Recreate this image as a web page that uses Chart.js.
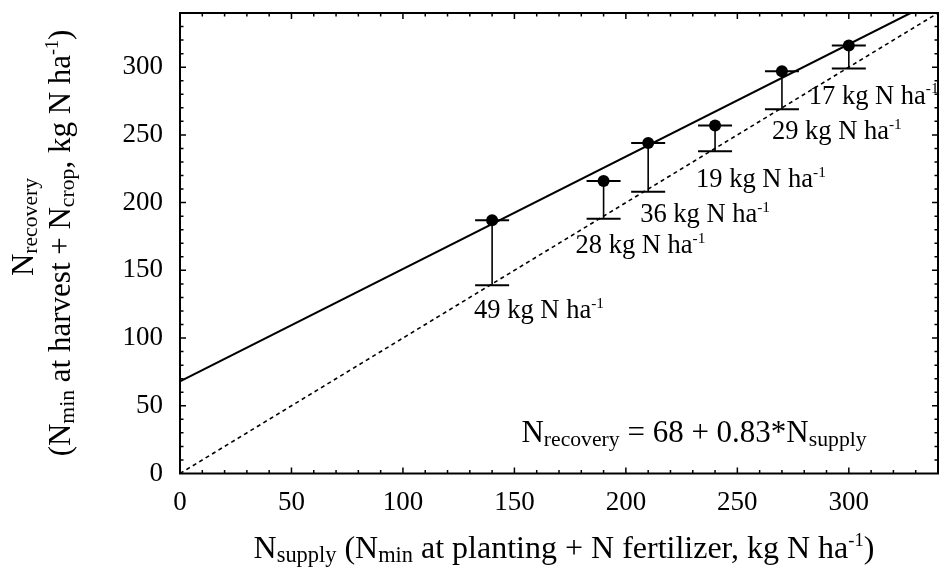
<!DOCTYPE html>
<html>
<head>
<meta charset="utf-8">
<script src="https://cdn.jsdelivr.net/npm/chart.js@4.4.0/dist/chart.umd.min.js"></script>
<style>
  html, body { margin: 0; padding: 0; background: #fff; }
  #wrap { width: 944px; height: 568px; }
</style>
</head>
<body>
<div id="wrap"><canvas id="nChart" width="944" height="568"></canvas></div>
<script>
// N supply vs N recovery
const supply = [140, 190, 210, 240, 270, 300];
const recovery = [187, 216, 244, 257, 297, 316];
const lowerEnd = [139, 188, 208, 238, 269, 299];
const gapLabels = ['49', '28', '36', '19', '29', '17'];

// regression line N_recovery = 68 + 0.83*N_supply, and the 1:1 line
const fitX = [0, 327.7];
const fitY = [68, 340];
const oneX = [0, 340];
const oneY = [0, 340];

const axisMax = 340;
const SERIF = '"Liberation Serif", "Times New Roman", serif';

// label placement relative to the lower cap, in pixels
const labelShift = [[-18, 33], [-28, 34], [-8, 30], [-19, 36], [-10, 30], [-40, 35]];

function font(size) { return size + 'px ' + SERIF; }

// parts: [text, kind] where kind is '', 'sub' or 'sup'
function partSize(kind, size) {
    if (kind === 'sub') return size * 0.7;
    if (kind === 'sup') return size * 0.58;
    return size;
}
function partShift(kind, size) {
    if (kind === 'sub') return size * 0.13;
    if (kind === 'sup') return -size * 0.38;
    return 0;
}
function richWidth(ctx, parts, size) {
    let w = 0;
    parts.forEach(([t, k]) => {
        ctx.font = font(partSize(k, size));
        w += ctx.measureText(t).width;
    });
    return w;
}
function drawRich(ctx, parts, x, y, size, align) {
    let cx = x;
    if (align === 'center') cx = x - richWidth(ctx, parts, size) / 2;
    ctx.textAlign = 'left';
    ctx.textBaseline = 'alphabetic';
    parts.forEach(([t, k]) => {
        ctx.font = font(partSize(k, size));
        ctx.fillText(t, cx, y + partShift(k, size));
        cx += ctx.measureText(t).width;
    });
}

const framePlugin = {
    id: 'frame',
    afterDatasetsDraw(chart) {
        const { ctx, scales: { x, y } } = chart;
        ctx.save();
        ctx.strokeStyle = '#000';
        supply.forEach((s, i) => {
            const px = x.getPixelForValue(s);
            const top = y.getPixelForValue(recovery[i]);
            const bot = y.getPixelForValue(lowerEnd[i]);
            ctx.lineWidth = 1.6;
            ctx.beginPath();
            ctx.moveTo(px, top);
            ctx.lineTo(px, bot);
            ctx.stroke();
            ctx.lineWidth = 2;
            ctx.beginPath();
            ctx.moveTo(px - 17, top); ctx.lineTo(px + 17, top);
            ctx.moveTo(px - 17, bot); ctx.lineTo(px + 17, bot);
            ctx.stroke();
        });
        ctx.restore();
    },
    afterDraw(chart) {
        const { ctx, chartArea: a, scales: { x, y } } = chart;
        ctx.save();
        ctx.strokeStyle = '#000';
        ctx.fillStyle = '#000';

        // frame
        ctx.lineWidth = 2;
        ctx.strokeRect(a.left, a.top, a.right - a.left, a.bottom - a.top);

        // inward ticks on all four sides
        ctx.lineWidth = 1.5;
        ctx.beginPath();
        x.ticks.forEach(t => {
            if (t.value <= 0 || t.value >= axisMax) return;
            const len = t.value % 50 === 0 ? 6 : 3.5;
            const px = x.getPixelForValue(t.value);
            ctx.moveTo(px, a.bottom); ctx.lineTo(px, a.bottom - len);
            ctx.moveTo(px, a.top); ctx.lineTo(px, a.top + len);
        });
        y.ticks.forEach(t => {
            if (t.value <= 0 || t.value >= axisMax) return;
            const len = t.value % 50 === 0 ? 6 : 3.5;
            const py = y.getPixelForValue(t.value);
            ctx.moveTo(a.left, py); ctx.lineTo(a.left + len, py);
            ctx.moveTo(a.right, py); ctx.lineTo(a.right - len, py);
        });
        ctx.stroke();

        // gap labels, clipped to the plot
        ctx.save();
        ctx.beginPath();
        ctx.rect(a.left, a.top, a.right - a.left - 1, a.bottom - a.top);
        ctx.clip();
        supply.forEach((s, i) => {
            const px = x.getPixelForValue(s) + labelShift[i][0];
            const py = y.getPixelForValue(lowerEnd[i]) + labelShift[i][1];
            drawRich(ctx, [[gapLabels[i] + ' kg N ha', ''], ['-1', 'sup']], px, py, 26.5, 'left');
        });
        ctx.restore();

        // equation
        drawRich(ctx, [['N', ''], ['recovery', 'sub'], [' = 68 + 0.83*N', ''], ['supply', 'sub']],
            694, 442, 31, 'center');

        // x title
        drawRich(ctx, [['N', ''], ['supply', 'sub'], [' (N', ''], ['min', 'sub'],
            [' at planting + N fertilizer, kg N ha', ''], ['-1', 'sup'], [')', '']],
            564, 558, 32, 'center');

        // y title, two rotated lines
        ctx.save();
        ctx.translate(33, 227);
        ctx.rotate(-Math.PI / 2);
        drawRich(ctx, [['N', ''], ['recovery', 'sub']], 0, 0, 31, 'center');
        ctx.restore();
        ctx.save();
        ctx.translate(70, 243);
        ctx.rotate(-Math.PI / 2);
        drawRich(ctx, [['(N', ''], ['min', 'sub'], [' at harvest + N', ''], ['crop', 'sub'],
            [', kg N ha', ''], ['-1', 'sup'], [')', '']], 0, 0, 31, 'center');
        ctx.restore();

        ctx.restore();
    }
};

const tickFont = { family: SERIF, size: 27 };

function noPadding(s) {
    s.paddingTop = 0;
    s.paddingBottom = 0;
    s.paddingLeft = 0;
    s.paddingRight = 0;
}

new Chart(document.getElementById('nChart'), {
    type: 'scatter',
    data: {
        datasets: [
            {
                label: 'Measured',
                data: supply.map((s, i) => ({ x: s, y: recovery[i] })),
                pointRadius: 6,
                pointBackgroundColor: '#000',
                pointBorderWidth: 0,
                showLine: false,
                order: 0
            },
            {
                label: 'Fit',
                type: 'line',
                data: fitX.map((v, i) => ({ x: v, y: fitY[i] })),
                borderColor: '#000',
                borderWidth: 2,
                pointRadius: 0,
                tension: 0,
                fill: false,
                order: 1
            },
            {
                label: '1:1',
                type: 'line',
                data: oneX.map((v, i) => ({ x: v, y: oneY[i] })),
                borderColor: '#000',
                borderWidth: 1.6,
                borderDash: [4, 3.5],
                pointRadius: 0,
                tension: 0,
                fill: false,
                order: 2
            }
        ]
    },
    options: {
        responsive: false,
        animation: false,
        layout: { padding: { top: 13, right: 3, left: 0, bottom: 0 } },
        plugins: {
            legend: { display: false },
            tooltip: { enabled: false }
        },
        scales: {
            x: {
                type: 'linear',
                min: 0,
                max: axisMax,
                grid: { display: false, drawTicks: false },
                border: { display: false },
                ticks: {
                    stepSize: 10,
                    autoSkip: false,
                    maxRotation: 0,
                    padding: 13,
                    color: '#000',
                    font: tickFont,
                    callback: v => (v % 50 === 0 && v < axisMax ? v : '')
                },
                afterFit: s => { s.height = 94.5; noPadding(s); }
            },
            y: {
                type: 'linear',
                min: 0,
                max: axisMax,
                grid: { display: false, drawTicks: false },
                border: { display: false },
                ticks: {
                    stepSize: 10,
                    autoSkip: false,
                    padding: 17,
                    color: '#000',
                    font: tickFont,
                    callback: v => (v % 50 === 0 && v < axisMax ? v : '')
                },
                afterFit: s => { s.width = 180; noPadding(s); }
            }
        }
    },
    plugins: [framePlugin]
});
</script>
</body>
</html>
